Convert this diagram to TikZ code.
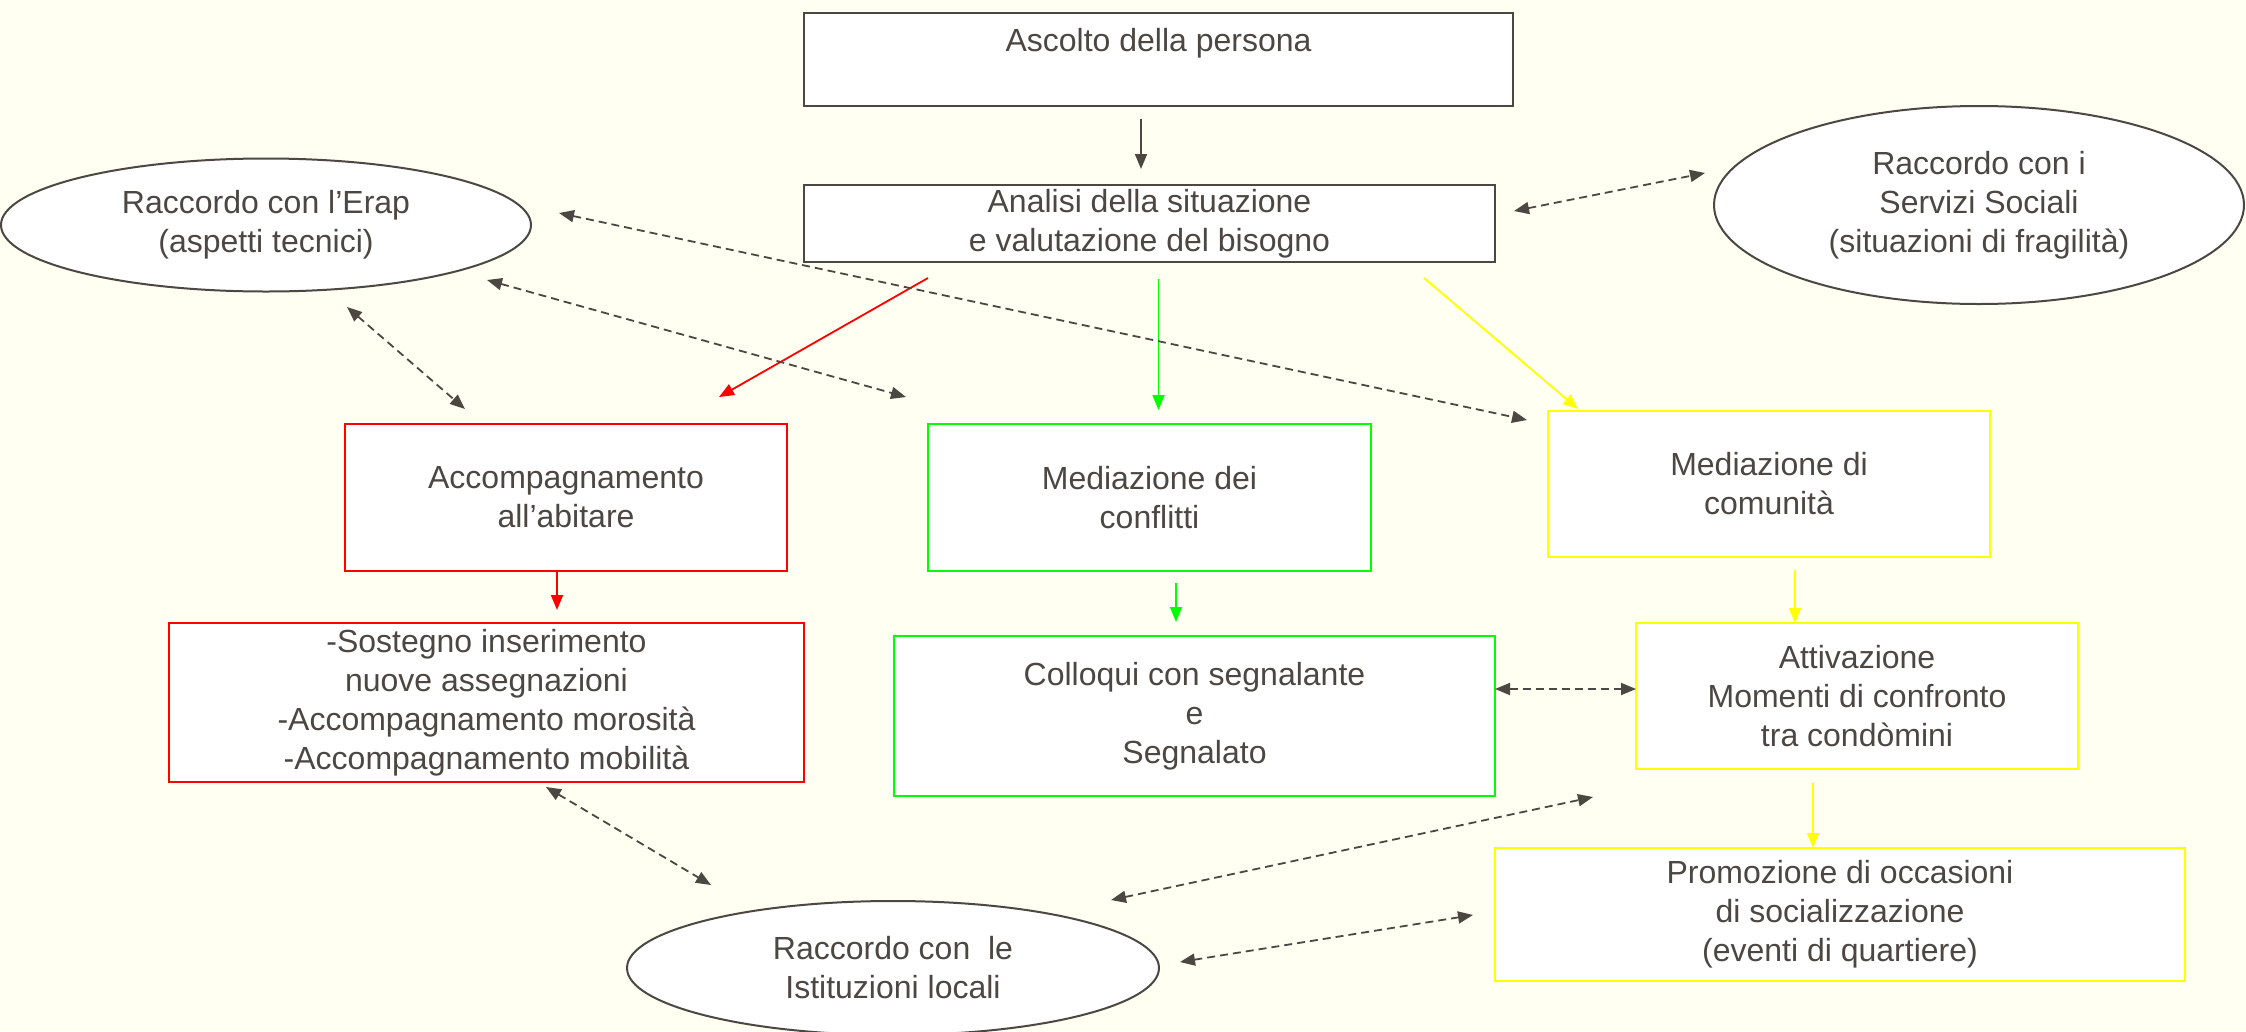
\documentclass[tikz,border=0pt]{standalone}
\usepackage{fontspec}
\setmainfont{Liberation Sans}
\usetikzlibrary{arrows.meta,shapes.geometric}
\definecolor{bgc}{RGB}{255,255,242}
\definecolor{ink}{RGB}{77,71,67}
\definecolor{rd}{RGB}{255,0,0}
\definecolor{gr}{RGB}{0,255,0}
\definecolor{yl}{RGB}{255,255,0}
\begin{document}
\begin{tikzpicture}[x=1pt,y=-1pt,
  font=\fontsize{32}{39}\selectfont,
  box/.style={rectangle, draw=#1, fill=white, line width=2pt, text=ink, align=center, inner sep=0pt},
  box/.default=ink,
  oval/.style={ellipse, draw=ink, fill=white, line width=2pt, text=ink, align=center, inner sep=0pt},
  flow/.style={draw=#1, line width=1.8pt, -{Triangle[length=15pt,width=12pt]}},
  flow/.default=ink,
  link/.style={draw=ink, line width=1.8pt, dash pattern=on 8pt off 5pt,
    {Triangle[length=15pt,width=12pt]}-{Triangle[length=15pt,width=12pt]}},
]
\fill[bgc] (0,0) rectangle (2246,1031);
\useasboundingbox (0,0) rectangle (2246,1031);

% nodes
\node[box, minimum width=709pt, minimum height=93pt] (ascolto) at (1158.5,59.5) {Ascolto della persona\\~};
\node[box, minimum width=691pt, minimum height=77pt] (analisi) at (1149.5,223.5) {Analisi della situazione\\e valutazione del bisogno};
\node[oval, minimum width=530pt, minimum height=133pt] (erap) at (266,225) {Raccordo con l’Erap\\(aspetti tecnici)};
\node[oval, minimum width=530pt, minimum height=198pt] (servizi) at (1979,205) {Raccordo con i\\Servizi Sociali\\(situazioni di fragilità)};
\node[box=rd, minimum width=442pt, minimum height=147pt] (accomp) at (566,497.5) {Accompagnamento\\all’abitare};
\node[box=gr, minimum width=443pt, minimum height=147pt] (conflitti) at (1149.5,497.5) {Mediazione dei\\conflitti};
\node[box=yl, minimum width=442pt, minimum height=146pt] (comunita) at (1769,484) {Mediazione di\\comunità};
\node[box=rd, minimum width=635pt, minimum height=159pt] (sostegno) at (486.5,702.5) {-Sostegno inserimento\\nuove assegnazioni\\-Accompagnamento morosità\\-Accompagnamento mobilità};
\node[box=gr, minimum width=601pt, minimum height=160pt] (colloqui) at (1194.5,716) {Colloqui con segnalante\\e\\Segnalato};
\node[box=yl, minimum width=442pt, minimum height=146pt] (attivazione) at (1857,696) {Attivazione\\Momenti di confronto\\tra condòmini};
\node[box=yl, minimum width=690pt, minimum height=133pt] (promozione) at (1840,914.5) {Promozione di occasioni\\di socializzazione\\(eventi di quartiere)};
\node[oval, minimum width=532pt, minimum height=134pt] (istituzioni) at (893,968) {Raccordo con~ le\\Istituzioni locali};

% connector end points
\coordinate (a1s) at (1141,119);  \coordinate (a1e) at (1141,169);
\coordinate (a2s) at (928,278);   \coordinate (a2e) at (719,397);
\coordinate (a3s) at (1158.5,279);\coordinate (a3e) at (1158.5,410);
\coordinate (a4s) at (1424,278);  \coordinate (a4e) at (1578,409);
\coordinate (a5s) at (557,571);   \coordinate (a5e) at (557,610);
\coordinate (a6s) at (1176,583);  \coordinate (a6e) at (1176,622);
\coordinate (a7s) at (1795,570);  \coordinate (a7e) at (1795,623);
\coordinate (a8s) at (1813,783);  \coordinate (a8e) at (1813,848);

\coordinate (d1a) at (1514,211);  \coordinate (d1b) at (1705,173);
\coordinate (d2a) at (559,213);   \coordinate (d2b) at (1527,420);
\coordinate (d3a) at (487,280);   \coordinate (d3b) at (906,397);
\coordinate (d4a) at (347,307);   \coordinate (d4b) at (465,409);
\coordinate (d5a) at (546,787);   \coordinate (d5b) at (711,885);
\coordinate (d6a) at (1111,900);  \coordinate (d6b) at (1593,797);
\coordinate (d7a) at (1180,962);  \coordinate (d7b) at (1473,915);
\coordinate (d8a) at (1495,689);  \coordinate (d8b) at (1636,689);

% solid flow arrows
\draw[flow] (a1s) -- (a1e);
\draw[flow=rd] (a2s) -- (a2e);
\draw[flow=gr] (a3s) -- (a3e);
\draw[flow=yl] (a4s) -- (a4e);
\draw[flow=rd] (a5s) -- (a5e);
\draw[flow=gr] (a6s) -- (a6e);
\draw[flow=yl] (a7s) -- (a7e);
\draw[flow=yl] (a8s) -- (a8e);

% dashed links
\draw[link] (d1a) -- (d1b);
\draw[link] (d2a) -- (d2b);
\draw[link] (d3a) -- (d3b);
\draw[link] (d4a) -- (d4b);
\draw[link] (d5a) -- (d5b);
\draw[link] (d6a) -- (d6b);
\draw[link] (d7a) -- (d7b);
\draw[link] (d8a) -- (d8b);
\end{tikzpicture}
\end{document}
